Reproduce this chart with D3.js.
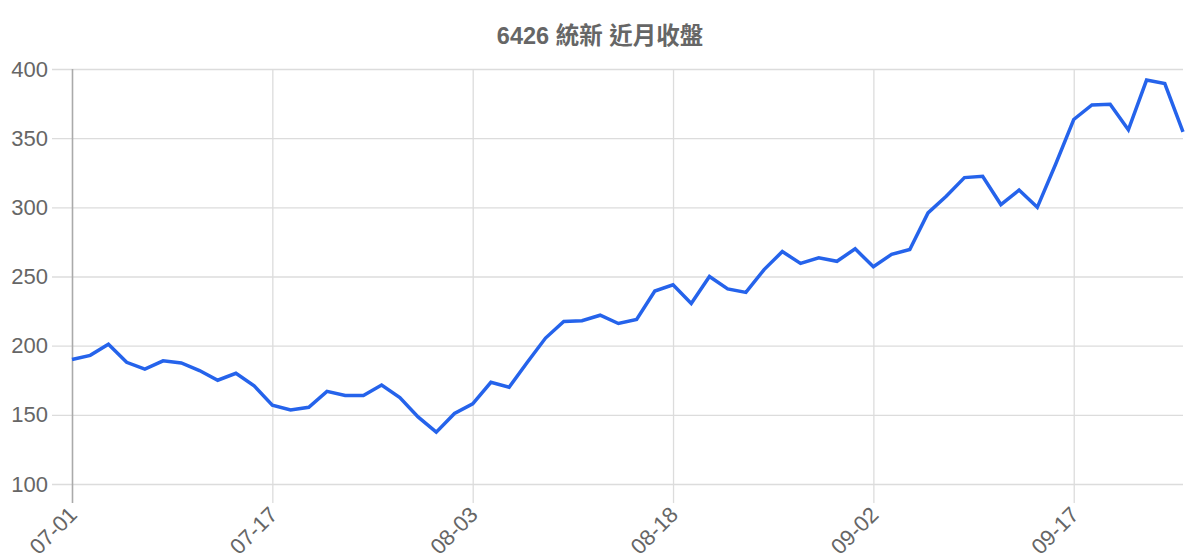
<!DOCTYPE html>
<html>
<head>
<meta charset="utf-8">
<script src="https://cdn.jsdelivr.net/npm/d3@7"></script>
<style>
html,body{margin:0;padding:0;background:#fff;}
svg{display:block;}
</style>
</head>
<body>
<svg id="chart" width="1200" height="560"></svg>
<script>
const title = "6426 統新 近月收盤";
const dates = [
"07-01","07-02","07-03","07-04","07-07","07-08","07-09","07-10","07-11","07-14","07-15","07-17",
"07-18","07-21","07-22","07-23","07-24","07-25","07-28","07-29","07-30","07-31","08-03",
"08-04","08-05","08-06","08-07","08-08","08-11","08-12","08-13","08-14","08-15","08-18",
"08-19","08-20","08-21","08-22","08-25","08-26","08-27","08-28","08-29","09-01","09-02",
"09-03","09-04","09-05","09-08","09-09","09-10","09-11","09-12","09-15","09-16","09-17",
"09-18","09-19","09-22","09-23","09-24","09-25"
];
const closes = [
190,193,201,188,183,189,187.5,182,175,180,171,157,
153.5,155.5,167,164,164,171.5,162.5,148.5,137.5,151,158,
173.5,170,188,205.5,217.5,218,222,216,219,239.5,244,
230.5,250,241,238.5,255,268,259.5,263.5,261,270,257,
266,269.5,296,308,321.5,322.5,302,312.5,300,331,363.5,
374,374.5,356,392,389.5,354.5
];
const yTicks = [100,150,200,250,300,350,400];
const xTickDates = ["07-01","07-17","08-03","08-18","09-02","09-17"];

const svg = d3.select("#chart");
const pLeft = 72, pRight = 1183, pTop = 69, pBottom = 484;
const font = "'Liberation Sans', Arial, sans-serif";

const x = d3.scalePoint().domain(dates).range([pLeft, pRight]);
const y = d3.scaleLinear().domain([100, 400]).range([pBottom, pTop]);

// horizontal grid
const yAxis = d3.axisLeft(y).tickValues(yTicks).tickSize(0).tickPadding(24).tickFormat(d3.format("d"));
const gy = svg.append("g").attr("transform", `translate(${pLeft},0)`).call(yAxis);
gy.select(".domain").remove();
gy.selectAll(".tick line").attr("x1", -20).attr("x2", pRight - pLeft).attr("stroke", "#dcdcdc").attr("stroke-width", 1.3);
gy.selectAll(".tick text").attr("x", -24).attr("fill", "#666").attr("font-size", 22)
  .attr("font-family", font);

// vertical grid + labels
const xAxis = d3.axisBottom(x).tickValues(xTickDates).tickSize(0).tickPadding(0);
const gx = svg.append("g").attr("transform", `translate(0,${pBottom})`).call(xAxis);
gx.select(".domain").remove();
gx.selectAll(".tick line").attr("y1", -(pBottom - pTop)).attr("y2", 19)
  .attr("stroke", (d, i) => i === 0 ? "#aaaaaa" : "#dcdcdc").attr("stroke-width", (d, i) => i === 0 ? 1.6 : 1.3);
gx.selectAll(".tick text")
  .attr("fill", "#666").attr("font-size", 22)
  .attr("font-family", font)
  .attr("text-anchor", "end")
  .attr("dy", null).attr("y", null)
  .attr("transform", "translate(6,32) rotate(-45)");

// line
const line = d3.line().x((d, i) => x(dates[i])).y(d => y(d));
svg.append("path").datum(closes)
  .attr("fill", "none").attr("stroke", "#2563eb").attr("stroke-width", 3.5)
  .attr("stroke-linejoin", "miter").attr("d", line);

// title
svg.append("text").attr("x", 600).attr("y", 44).attr("text-anchor", "middle")
  .attr("fill", "#666").attr("font-size", 23.5).attr("font-weight", "bold")
  .attr("font-family", "'Liberation Sans', 'Noto Sans CJK TC', sans-serif")
  .text(title);
</script>
</body>
</html>
